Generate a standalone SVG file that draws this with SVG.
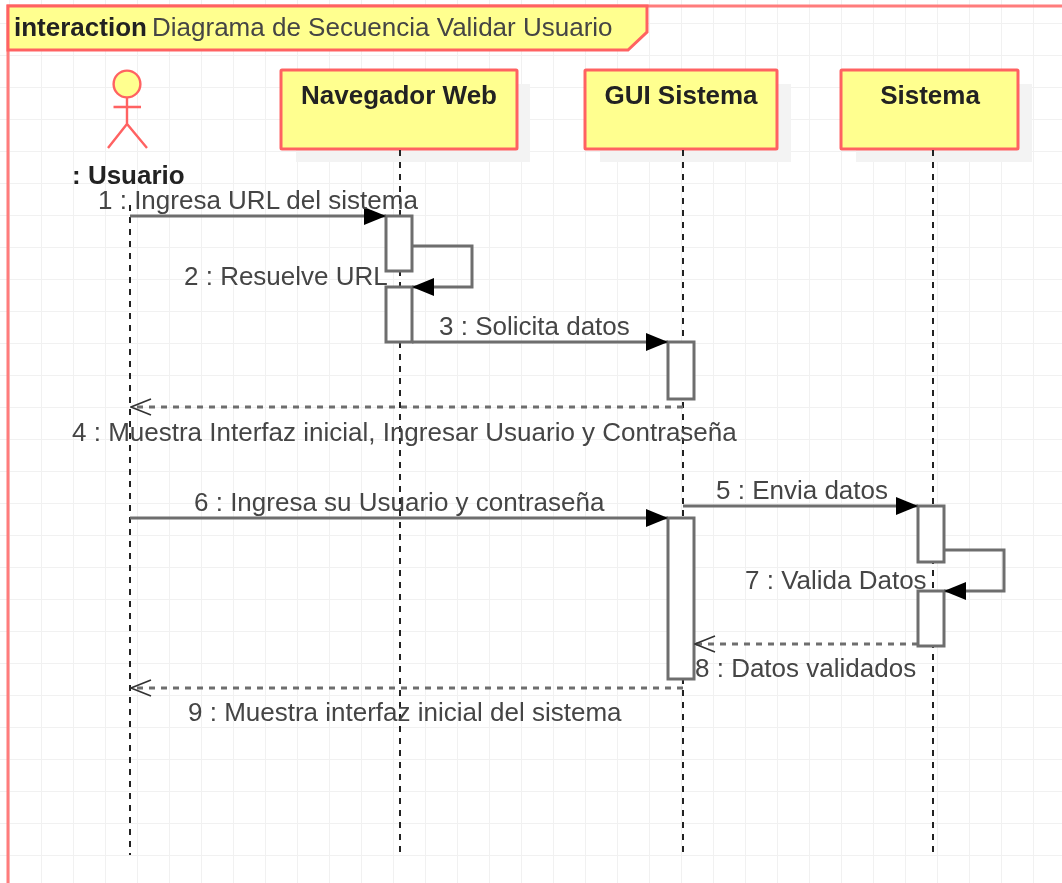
<svg xmlns="http://www.w3.org/2000/svg" width="1062" height="883" viewBox="0 0 1062 883">
<defs>
<pattern id="grid" x="10" y="23" width="32" height="32" patternUnits="userSpaceOnUse"><path d="M32 0V32M0 0H32" fill="none" stroke="#f1f1f1" stroke-width="2"/></pattern>
<marker id="solid" markerUnits="userSpaceOnUse" viewBox="0 0 22 18" markerWidth="22" markerHeight="18" refX="22" refY="9" orient="auto"><path d="M0 0L22 9L0 18Z" fill="#000"/></marker>
<marker id="open" markerUnits="userSpaceOnUse" viewBox="0 0 22 18" markerWidth="22" markerHeight="18" refX="21" refY="9" orient="auto"><path d="M1 1L21 9L1 17" fill="none" stroke="#333" stroke-width="1.6"/></marker>
<filter id="soft" x="0" y="0" width="100%" height="100%"><feGaussianBlur stdDeviation="0.45"/></filter>
</defs>
<style>
text{font-family:"Liberation Sans",Arial,sans-serif;font-size:26px;fill:#444}
.b{font-weight:700;fill:#222}
.n{text-anchor:middle;font-weight:700;fill:#222}
.box{fill:#ffff8f;stroke:#ff6262;stroke-width:3}
.shadow{fill:#f3f3f3;stroke:none}
.actor{fill:none;stroke:#ff6262;stroke-width:2.4}
.life{fill:none;stroke:#222;stroke-width:2;stroke-dasharray:6 6}
.act{fill:#fff;stroke:#6e6e6e;stroke-width:3}
.msg{fill:none;stroke:#6e6e6e;stroke-width:3}
.ret{fill:none;stroke:#6e6e6e;stroke-width:3;stroke-dasharray:6 6}
</style>
<rect width="1062" height="883" fill="#fff"/>
<g filter="url(#soft)">
<rect width="1062" height="883" fill="url(#grid)"/>
<g id="frame">
<path d="M1062 6H8V883" fill="none" stroke="#ff7b7b" stroke-width="3"/>
<path class="box" d="M8 6H647V32L628 50H8Z"/>
<text class="b" x="14" y="36">interaction</text>
<text x="152" y="36">Diagrama de Secuencia Validar Usuario</text>
</g>
<g id="usuario">
<circle cx="127" cy="84" r="13.4" fill="#ffff8f" stroke="#ff6262" stroke-width="2.4"/>
<path class="actor" d="M127 97V124M113.500 107H141M108 148L127 124L147 148"/>
<text class="b" x="72" y="184">: Usuario</text>
</g>
<g id="navegador">
<rect class="shadow" x="296" y="84" width="234" height="78"/>
<rect class="box" x="281" y="70" width="236" height="79" rx="1"/>
<text class="n" x="399" y="104">Navegador Web</text>
</g>
<g id="gui">
<rect class="shadow" x="600" y="84" width="191" height="78"/>
<rect class="box" x="585" y="70" width="192" height="79" rx="1"/>
<text class="n" x="681" y="104">GUI Sistema</text>
</g>
<g id="sistema">
<rect class="shadow" x="856" y="84" width="176" height="78"/>
<rect class="box" x="841" y="70" width="177" height="79" rx="1"/>
<text class="n" x="930" y="104">Sistema</text>
</g>
<g id="lifelines">
<path class="life" d="M130 205V855"/>
<path class="life" d="M400 150V853"/>
<path class="life" d="M683 150V853"/>
<path class="life" d="M933 150V853"/>
</g>
<g id="activations">
<rect class="act" x="386" y="216" width="26" height="55"/>
<rect class="act" x="386" y="287" width="26" height="55"/>
<rect class="act" x="668" y="342" width="26" height="57"/>
<rect class="act" x="668" y="518" width="26" height="161"/>
<rect class="act" x="918" y="506" width="26" height="56"/>
<rect class="act" x="918" y="591" width="26" height="55"/>
</g>
<g id="connectors">
<path class="msg" d="M130 216H386" marker-end="url(#solid)"/>
<path class="msg" d="M412 246H472V287H412" marker-end="url(#solid)"/>
<path class="msg" d="M412 342H668" marker-end="url(#solid)"/>
<path class="ret" d="M683 407H131" marker-end="url(#open)"/>
<path class="msg" d="M683 506H918" marker-end="url(#solid)"/>
<path class="msg" d="M130 518H668" marker-end="url(#solid)"/>
<path class="msg" d="M944 550H1004V591H944" marker-end="url(#solid)"/>
<path class="ret" d="M918 644H695" marker-end="url(#open)"/>
<path class="ret" d="M683 688H131" marker-end="url(#open)"/>
</g>
<g id="labels">
<text x="98" y="209">1 : Ingresa URL del sistema</text>
<text x="184" y="285">2 : Resuelve URL</text>
<text x="439" y="335">3 : Solicita datos</text>
<text x="72" y="441">4 : Muestra Interfaz inicial, Ingresar Usuario y Contraseña</text>
<text x="716" y="499">5 : Envia datos</text>
<text x="194" y="511">6 : Ingresa su Usuario y contraseña</text>
<text x="745" y="589">7 : Valida Datos</text>
<text x="695" y="677">8 : Datos validados</text>
<text x="188" y="721">9 : Muestra interfaz inicial del sistema</text>
</g>
</g>
</svg>
